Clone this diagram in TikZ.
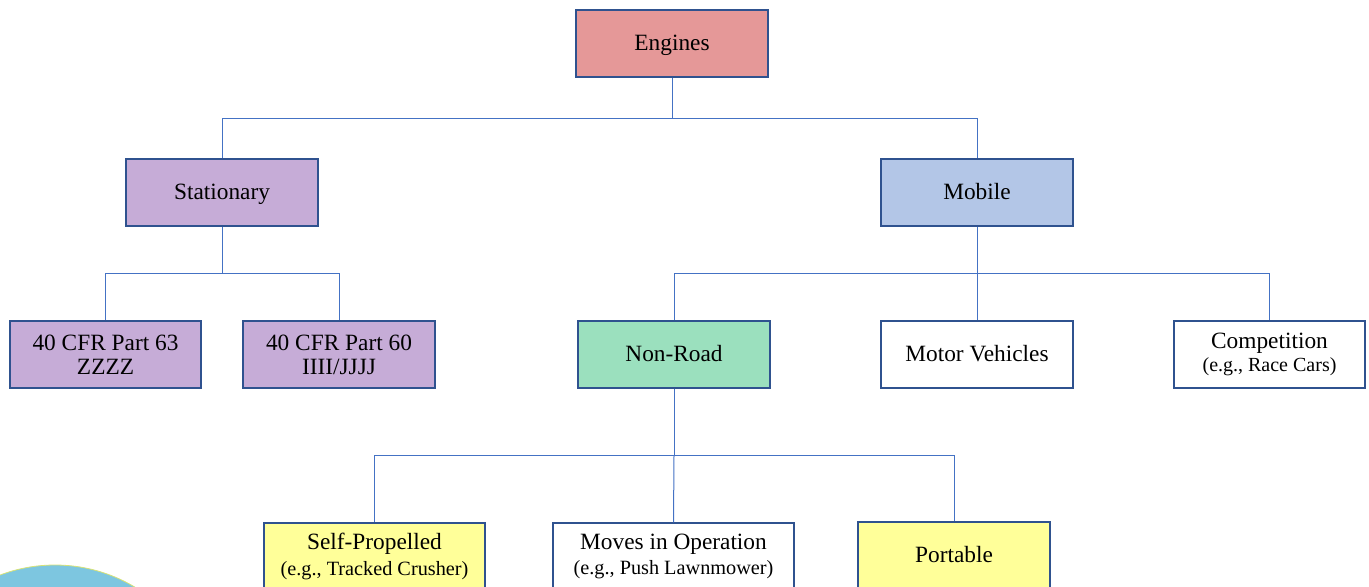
\documentclass[tikz,border=0pt]{standalone}
\usepackage{fontspec}
\setmainfont{Liberation Serif}
\usepackage{tikz}

\definecolor{boxedge}{RGB}{47,82,143}
\definecolor{linkblue}{RGB}{68,114,196}
\definecolor{enginered}{RGB}{229,152,152}
\definecolor{statlilac}{RGB}{198,172,215}
\definecolor{mobileblue}{RGB}{179,198,231}
\definecolor{roadgreen}{RGB}{155,224,190}
\definecolor{portyellow}{RGB}{255,255,153}
\definecolor{cornerblue}{RGB}{125,198,224}
\definecolor{cornerrim}{RGB}{214,226,120}

\newcommand{\topsub}{\fontsize{15}{17}\selectfont}
\newcommand{\lowsub}{\fontsize{15.2}{17}\selectfont}

\begin{document}
\begin{tikzpicture}[x=0.75pt,y=0.75pt,yscale=-1,xscale=1,
  box/.style={draw=boxedge, line width=1.1pt, minimum width=144pt, minimum height=50.25pt,
    inner sep=0pt, align=center, font=\fontsize{17.5}{18}\selectfont},
  oneline/.style={text height=12.5pt, text depth=2pt},
  link/.style={draw=linkblue, line width=0.75pt}]
\clip (0,0) rectangle (1369,586);
% corner disc
\draw [draw=cornerrim, fill=cornerblue, line width=0.6pt] (55,720) circle [radius=155];
% boxes
\node [box, oneline, fill=enginered] (engines) at (672,43.5) {Engines};
\node [box, oneline, fill=statlilac] (stationary) at (222,192.5) {Stationary};
\node [box, oneline, fill=mobileblue] (mobile) at (977,192.5) {Mobile};
\node [box, fill=statlilac, minimum width=143.25pt] (cfr63) at (105.5,354.5) {40 CFR Part 63\\ZZZZ};
\node [box, fill=statlilac] (cfr60) at (339,354.5) {40 CFR Part 60\\IIII/JJJJ};
\node [box, oneline, fill=roadgreen] (nonroad) at (674,354.5) {Non-Road};
\node [box, oneline, fill=white] (motor) at (977,354.5) {Motor Vehicles};
\node [box, fill=white, minimum width=143.25pt] (competition) at (1269.5,354.5) {Competition\\[-1pt]{\topsub (e.g., Race Cars)}};
\node [box, fill=portyellow, minimum width=165.75pt] (selfprop) at (374.5,556.5) {Self-Propelled\\[1pt]{\lowsub (e.g., Tracked Crusher)}};
\node [box, fill=white, minimum width=180.75pt] (moves) at (673.5,556.5) {Moves in Operation\\[1pt]{\lowsub (e.g., Push Lawnmower)}};
\node [box, oneline, fill=portyellow] (portable) at (954,555.5) {Portable};
% bus levels
\coordinate (busa) at (0,118);
\coordinate (busb) at (0,273);
\coordinate (busc) at (0,455);
% connectors
\draw [link] (engines.south) -- (engines.south |- busa) -| (stationary.north);
\draw [link] (engines.south |- busa) -| (mobile.north);
\draw [link] (stationary.south) -- (stationary.south |- busb) -| (cfr63.north);
\draw [link] (stationary.south |- busb) -| (cfr60.north);
\draw [link] (mobile.south) -- (mobile.south |- busb) -| (nonroad.north);
\draw [link] (mobile.south |- busb) -- (motor.north);
\draw [link] (mobile.south |- busb) -| (competition.north);
\draw [link] (nonroad.south) -- (nonroad.south |- busc) -| (selfprop.north);
\draw [link] (nonroad.south |- busc) -- (moves.north);
\draw [link] (nonroad.south |- busc) -| (portable.north);
\end{tikzpicture}
\end{document}
